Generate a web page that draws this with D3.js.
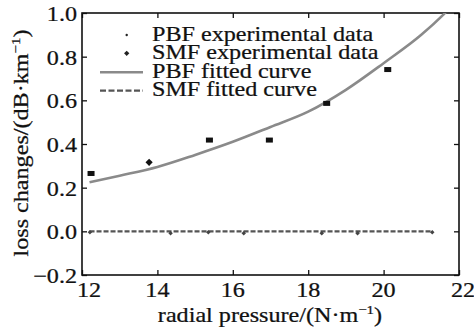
<!DOCTYPE html>
<html><head><meta charset="utf-8">
<script src="https://cdn.jsdelivr.net/npm/d3@7"></script>
<style>html,body{margin:0;padding:0;background:#fff;}svg{display:block;} text{font-family:"Liberation Serif","Times New Roman",Times,serif;}</style>
</head><body>
<svg id="chart" width="474" height="329"></svg>
<script>
// ---- data ----
const xTicks = [12, 14, 16, 18, 20, 22];
const yTicks = [-0.2, 0.0, 0.2, 0.4, 0.6, 0.8, 1.0];
const xTickLabels = ["12", "14", "16", "18", "20", "22"];
const yTickLabels = ["\u22120.2", "0.0", "0.2", "0.4", "0.6", "0.8", "1.0"];

const pbfExpX = [12.24, 13.78, 15.38, 16.97, 18.49, 20.11];
const pbfExpY = [0.265, 0.316, 0.418, 0.418, 0.586, 0.741];

const smfExpX = [12.21, 14.35, 15.35, 16.29, 18.36, 19.31, 21.29];
const smfExpY = [0.0, -0.004, 0.0, -0.004, -0.004, -0.004, 0.0];

const pbfFitX = [12.2, 13, 14, 15, 16, 17, 18, 19, 20, 21, 21.6, 21.8];
const pbfFitY = [0.225, 0.255, 0.295, 0.35, 0.41, 0.478, 0.548, 0.648, 0.77, 0.90, 0.995, 1.03];

const smfFitX = [12.2, 21.3];
const smfFitY = [0.0, 0.0];

const legendLabels = ["PBF experimental data", "SMF experimental data", "PBF fitted curve", "SMF fitted curve"];
const xLabel = ["radial pressure/(N\u00B7m", "\u22121", ")"];
const yLabel = ["loss changes/(dB\u00B7km", "\u22121", ")"];

// ---- layout ----
const svg = d3.select("#chart");
const L = 82, R = 459, T = 13, B = 275;
const x = d3.scaleLinear().domain([12, 22]).range([L, R]);
const y = d3.scaleLinear().domain([-0.2, 1.0]).range([B, T]);
const FS = 21, SX = 1.15;

function addText(parts, px, py, anchor, rotate) {
  const t = svg.append("text")
    .attr("transform", `translate(${px},${py})` + (rotate ? ` rotate(${rotate})` : "") + ` scale(${SX},1)`)
    .attr("text-anchor", anchor)
    .style("font-family", '"Liberation Serif", "Times New Roman", Times, serif')
    .style("font-size", FS + "px")
    .attr("fill", "#111")
    .attr("stroke", "#111").attr("stroke-width", 0.25);
  if (typeof parts === "string") { t.text(parts); return t; }
  t.append("tspan").text(parts[0]);
  t.append("tspan").style("font-size", "13px").attr("dy", -8).text(parts[1]);
  t.append("tspan").attr("dy", 8).text(parts[2]);
  return t;
}

const clip = svg.append("clipPath").attr("id", "plotclip");
clip.append("rect").attr("x", L).attr("y", T).attr("width", R - L).attr("height", B - T);

// axes (inward ticks)
const tickLen = 5;
svg.append("g").attr("transform", `translate(0,${B})`)
  .call(d3.axisBottom(x).tickValues(xTicks).tickSize(-tickLen).tickSizeOuter(0).tickFormat(""));
svg.append("g").attr("transform", `translate(0,${T})`)
  .call(d3.axisTop(x).tickValues(xTicks).tickSize(-tickLen).tickSizeOuter(0).tickFormat(""));
svg.append("g").attr("transform", `translate(${L},0)`)
  .call(d3.axisLeft(y).tickValues(yTicks).tickSize(-tickLen).tickSizeOuter(0).tickFormat(""));
svg.append("g").attr("transform", `translate(${R},0)`)
  .call(d3.axisRight(y).tickValues(yTicks).tickSize(-tickLen).tickSizeOuter(0).tickFormat(""));
svg.selectAll(".domain").attr("stroke", "none");
svg.selectAll(".tick line").attr("stroke", "#111").attr("stroke-width", 1.3);

svg.append("rect").attr("x", L).attr("y", T).attr("width", R - L).attr("height", B - T)
  .attr("fill", "none").attr("stroke", "#111").attr("stroke-width", 1.6);

// tick labels
xTicks.forEach((v, i) => {
  let off = 0;
  if (i === 0) off = 7;
  if (i === xTicks.length - 1) off = 4;
  addText(xTickLabels[i], x(v) + off, 297, "middle");
});
yTicks.forEach((v, i) => {
  addText(yTickLabels[i], 77, y(v) + 8, "end");
});

// axis titles
addText(xLabel, 270, 322, "middle");
addText(yLabel, 28, 143, "middle", -90);

// fitted curves
const plot = svg.append("g").attr("clip-path", "url(#plotclip)");
const line = d3.line().x(d => x(d[0])).y(d => y(d[1])).curve(d3.curveMonotoneX);
plot.append("path").datum(pbfFitX.map((v, i) => [v, pbfFitY[i]]))
  .attr("d", line).attr("fill", "none").attr("stroke", "#8a8a8a").attr("stroke-width", 2.6);
plot.append("path").datum(smfFitX.map((v, i) => [v, smfFitY[i]]))
  .attr("d", line).attr("fill", "none").attr("stroke", "#555").attr("stroke-width", 2.2)
  .attr("stroke-dasharray", "5,2");

// experimental points
pbfExpX.forEach((v, i) => {
  if (i === 1) {
    svg.append("path").attr("transform", `translate(${x(v)},${y(pbfExpY[i])}) rotate(45)`)
      .attr("d", d3.symbol().type(d3.symbolSquare).size(26)).attr("fill", "#111");
  } else {
    svg.append("rect").attr("x", x(v) - 3.5).attr("y", y(pbfExpY[i]) - 2.5)
      .attr("width", 7).attr("height", 5).attr("fill", "#111");
  }
});
smfExpX.forEach((v, i) => {
  svg.append("path").attr("transform", `translate(${x(v)},${y(smfExpY[i]) + 1}) rotate(45)`)
    .attr("d", d3.symbol().type(d3.symbolSquare).size(10)).attr("fill", "#444");
});

// legend
const lgX = 152, lgY0 = 40.5, lgDY = 18.5;
legendLabels.forEach((s, i) => addText(s, lgX, lgY0 + i * lgDY, "start"));
svg.append("circle").attr("cx", 126.7).attr("cy", 35).attr("r", 1.2).attr("fill", "#222");
svg.append("path").attr("transform", "translate(126.7,53.3) rotate(45)")
  .attr("d", d3.symbol().type(d3.symbolSquare).size(14)).attr("fill", "#222");
svg.append("line").attr("x1", 100).attr("x2", 143).attr("y1", 72.3).attr("y2", 72.3)
  .attr("stroke", "#8a8a8a").attr("stroke-width", 2.6);
svg.append("line").attr("x1", 100).attr("x2", 143).attr("y1", 90.7).attr("y2", 90.7)
  .attr("stroke", "#555").attr("stroke-width", 2.2).attr("stroke-dasharray", "6,2.5");
</script>
</body></html>
